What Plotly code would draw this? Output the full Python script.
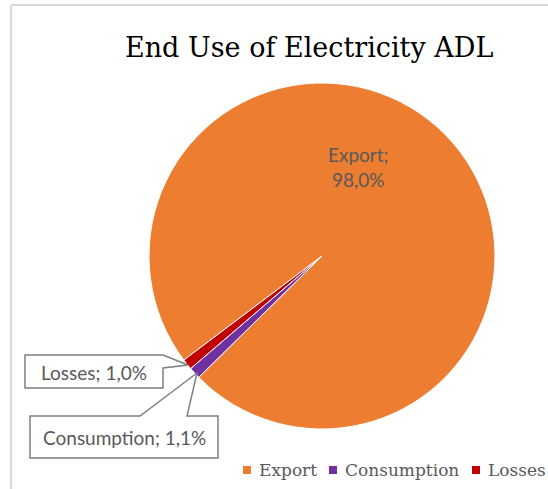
import plotly.graph_objects as go

W, H = 548, 489

title = "End Use of Electricity ADL"
labels = ["Export", "Consumption", "Losses"]
values = [98.0, 1.1, 1.0]
colors = ["#ED7D31", "#7030A0", "#C00000"]

SERIF = "DejaVu Serif"


def px(x):
    return x / W


def py(y):
    return 1 - y / H


def fmt(v):
    return f"{v:.1f}%".replace(".", ",")


cx, cy, r = 322, 256, 173

fig = go.Figure()
fig.add_trace(go.Pie(
    labels=labels, values=values, sort=False, direction="clockwise",
    rotation=233, textinfo="none", showlegend=False,
    marker=dict(colors=colors, line=dict(color="white", width=1)),
    domain=dict(x=[px(cx - r), px(cx + r)], y=[py(cy + r), py(cy - r)]),
))

shapes = []
shapes.append(dict(type="line", xref="paper", yref="paper", x0=px(11), x1=px(548), y0=py(5), y1=py(5),
                   line=dict(color="#D9D9D9", width=2)))
shapes.append(dict(type="line", xref="paper", yref="paper", x0=px(11), x1=px(11), y0=py(5), y1=py(489),
                   line=dict(color="#D9D9D9", width=2)))


def path(pts):
    return "M " + " L ".join(f"{px(x):.5f},{py(y):.5f}" for x, y in pts) + " Z"


shapes.append(dict(type="path", xref="paper", yref="paper",
                   path=path([(25, 355), (163, 355), (188, 365), (163, 368), (163, 388), (25, 388)]),
                   fillcolor="white", line=dict(color="#7F7F7F", width=1.5)))
shapes.append(dict(type="path", xref="paper", yref="paper",
                   path=path([(30, 416), (140, 416), (197, 373), (187, 416), (218, 416), (218, 458), (30, 458)]),
                   fillcolor="white", line=dict(color="#7F7F7F", width=1.5)))

annotations = []
annotations.append(dict(text=title, x=px(309), y=py(47), xref="paper", yref="paper", showarrow=False,
                        xanchor="center", yanchor="middle",
                        font=dict(family=SERIF, size=27, color="black")))
lab_font = dict(family="Lato", size=19, color="#595959")
annotations.append(dict(text=f"{labels[0]};<br>{fmt(values[0])}", x=px(358), y=py(167), xref="paper", yref="paper",
                        showarrow=False, xanchor="center", yanchor="middle", font=lab_font))
annotations.append(dict(text=f"{labels[2]}; {fmt(values[2])}", x=px(94), y=py(372), xref="paper", yref="paper",
                        showarrow=False, xanchor="center", yanchor="middle", font=lab_font))
annotations.append(dict(text=f"{labels[1]}; {fmt(values[1])}", x=px(124), y=py(437), xref="paper", yref="paper",
                        showarrow=False, xanchor="center", yanchor="middle", font=lab_font))

leg_x = [243, 329, 472]
for lx, lab, col in zip(leg_x, labels, colors):
    shapes.append(dict(type="rect", xref="paper", yref="paper", x0=px(lx), x1=px(lx + 8), y0=py(474), y1=py(466),
                       fillcolor=col, line=dict(width=0)))
    annotations.append(dict(text=lab, x=px(lx + 14), y=py(470), xref="paper", yref="paper", showarrow=False,
                            xanchor="left", yanchor="middle",
                            font=dict(family=SERIF, size=17, color="#595959")))

fig.update_layout(width=W, height=H, margin=dict(l=0, r=0, t=0, b=0),
                  paper_bgcolor="white", plot_bgcolor="white",
                  shapes=shapes, annotations=annotations, showlegend=False)
fig.write_html("out.html")
